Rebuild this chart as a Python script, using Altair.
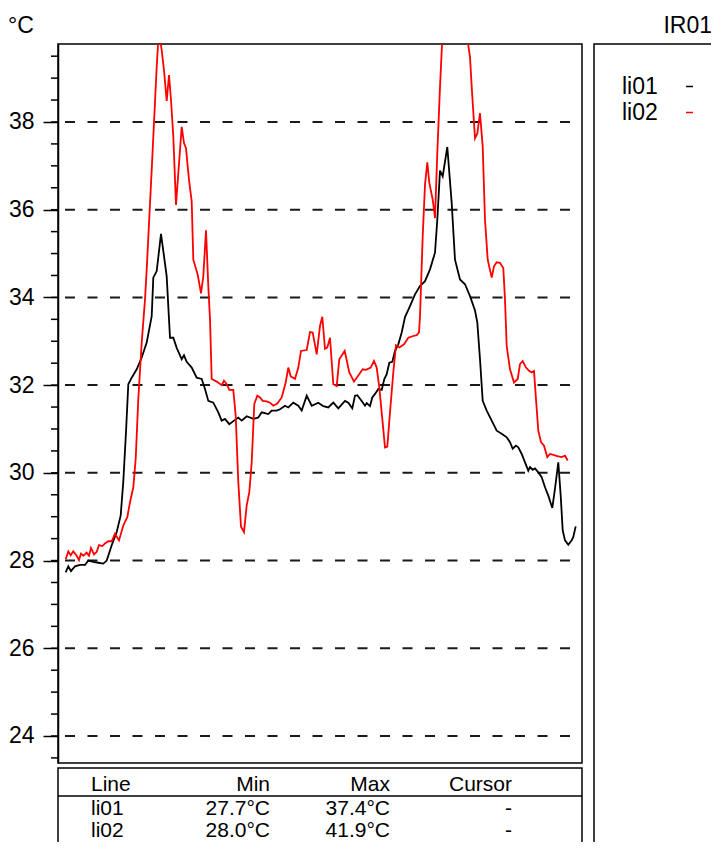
import altair as alt
import pandas as pd

# ---- data ----
li01_pos = [0, 1.3, 2.65, 4.65, 7.15, 9.65, 11.3, 13.8, 16.3, 18.8, 20.5, 23, 25.5, 27.5, 28.8, 30.15,
            31.3, 33, 35.5, 38, 40.5, 43, 43.8, 45.5, 47.65, 50.5, 51.65, 52.15, 53.8, 55.5, 58, 59.15,
            60.5, 63, 65.5, 68, 69.65, 71.3, 73.8, 76.3, 78, 79.65, 81.8, 84.15, 86.3, 88, 90.5, 93.8,
            96.3, 98, 101.3, 103, 105.5, 107.15, 109.65, 111.3, 113.8, 116.3, 118, 120.5, 123, 126.3,
            128.8, 131.3, 133.8, 136.3, 139.65, 141.3, 143.3, 144.65, 145.8, 148, 149.65, 150.5, 152.15,
            153.3, 154.65, 156.3, 158, 159.3, 160.5, 161.8, 163.3, 164.65, 166.3, 168, 169.65, 172.15,
            174.65, 177.15, 179.65, 182.15, 184.65, 185.8, 187.15, 188.5, 190.8, 193, 194.65, 197.15,
            199.65, 202.15, 204.65, 205.8, 207.15, 208.5, 210.5, 213, 215.5, 218, 220.5, 222.15, 223.5,
            225.15, 226.3, 228, 229.65, 231.3, 232.15, 233.5, 234.65, 236.3, 238, 239.65, 241.3, 243.3,
            244.65, 246.3, 247.5, 248.5, 249.65, 251.3, 253, 253.8, 255]
li01_val = [27.73, 27.87, 27.76, 27.87, 27.9, 27.9, 28.0, 27.97, 27.95, 27.93, 28.0, 28.35, 28.65, 29.03,
            29.8, 30.93, 32.02, 32.17, 32.36, 32.63, 32.97, 33.57, 34.45, 34.6, 35.45, 34.48, 33.5, 33.08,
            33.08, 32.85, 32.59, 32.68, 32.53, 32.4, 32.17, 32.14, 31.91, 31.64, 31.6, 31.38, 31.19, 31.23,
            31.11, 31.19, 31.26, 31.19, 31.29, 31.23, 31.26, 31.38, 31.34, 31.42, 31.42, 31.45, 31.53,
            31.49, 31.6, 31.53, 31.42, 31.76, 31.53, 31.6, 31.52, 31.49, 31.6, 31.47, 31.64, 31.6, 31.47,
            31.76, 31.77, 31.64, 31.53, 31.59, 31.52, 31.72, 31.8, 31.91, 31.89, 32.14, 32.25, 32.51,
            32.53, 32.78, 32.93, 33.2, 33.55, 33.8, 34.07, 34.26, 34.37, 34.64, 35.02, 35.77, 36.89,
            36.76, 37.43, 36.15, 34.86, 34.41, 34.3, 34.03, 33.7, 33.43, 32.59, 31.64, 31.42, 31.19,
            30.96, 30.89, 30.81, 30.7, 30.55, 30.62, 30.58, 30.43, 30.24, 30.05, 30.13, 30.07, 30.1,
            30.01, 29.9, 29.67, 29.48, 29.2, 29.64, 30.24, 29.48, 28.69, 28.46, 28.36, 28.46, 28.54, 28.78]

li02_pos = [0, 1.3, 2.5, 3.8, 5.5, 6.65, 7.65, 8.8, 10.5, 11.65, 12.65, 14.15, 15.5, 16.65, 18.3, 19.65,
            21.3, 23, 24.65, 26.65, 28.8, 30.8, 32.15, 33.8, 35, 36.3, 38, 39.65, 40.5, 43, 45.5, 46.4,
            47.15, 48, 49.15, 50.5, 51.65, 52.65, 53.8, 55.15, 56.8, 58, 59.15, 60.15, 61.65, 63, 63.8,
            66, 67.65, 68.8, 70.15, 71.3, 72.15, 73, 75.5, 78, 79.15, 80.5, 81.8, 83.8, 85, 86.3, 87.65,
            89.15, 90.5, 91.8, 93, 94.3, 95.8, 97.15, 98.5, 100.5, 102.15, 103.8, 105.8, 108, 110, 111.3,
            112.5, 114.65, 116.3, 117.65, 120.5, 122.15, 123.5, 125.5, 127.15, 128.3, 129.65, 130.8,
            132.15, 133.8, 135.5, 136.8, 139.5, 141.8, 144.15, 146.3, 148.5, 150.15, 152.5, 154.15,
            155.5, 156.8, 158.3, 159.65, 160.8, 162.15, 163.8, 165.15, 166.8, 169.15, 171.3, 173.8,
            175.5, 176.65, 177.15, 178.5, 179.65, 180.8, 181.8, 183.5, 184.65, 185.8, 187.15, 188.3,
            194.65, 200.5, 202.15, 203, 204.65, 205.8, 207.15, 208.5, 209.65, 211, 213, 214.15, 215.5,
            217.15, 218.8, 219.65, 220.5, 222.15, 224.15, 226, 227.15, 228.5, 230.15, 231.8, 233,
            234.15, 235.15, 236.3, 237.65, 239.15, 240.8, 242.15, 243.8, 245.8, 248, 249.65, 251]
li02_val = [28.03, 28.21, 28.12, 28.21, 28.11, 28.01, 28.16, 28.11, 28.18, 28.11, 28.29, 28.14, 28.2,
            28.35, 28.33, 28.39, 28.44, 28.44, 28.61, 28.46, 28.8, 28.99, 29.33, 29.67, 30.32, 31.68,
            32.97, 33.95, 34.64, 36.91, 39.26, 39.95, 39.9, 39.64, 39.18, 38.48, 39.07, 38.5, 37.67,
            36.11, 37.14, 37.89, 37.52, 37.4, 36.68, 36.19, 34.86, 34.52, 34.09, 34.48, 35.53, 34.26,
            33.5, 32.14, 32.08, 32.0, 32.1, 32.02, 31.89, 31.89, 31.3, 29.79, 28.77, 28.65, 29.26,
            29.56, 30.24, 31.57, 31.76, 31.72, 31.64, 31.63, 31.6, 31.53, 31.58, 31.72, 32.06, 32.4,
            32.2, 32.14, 32.4, 32.78, 32.8, 33.21, 33.2, 32.7, 33.35, 33.56, 32.83, 32.86, 33.08, 32.02,
            31.98, 32.59, 32.78, 32.29, 32.08, 32.22, 32.36, 32.35, 32.4, 32.55, 32.4, 31.95, 31.23,
            30.58, 30.6, 31.38, 32.29, 32.91, 32.86, 32.93, 33.08, 33.12, 33.14, 33.2, 33.57, 35.39,
            36.57, 37.08, 36.61, 36.23, 35.81, 37.29, 38.8, 39.9, 41.9, 40.0, 39.48, 38.8, 37.63, 37.74,
            38.2, 37.44, 35.77, 34.86, 34.45, 34.71, 34.8, 34.79, 34.67, 33.95, 32.89, 32.36, 32.06,
            32.14, 32.48, 32.55, 32.4, 32.32, 32.29, 32.32, 31.68, 30.96, 30.7, 30.62, 30.36, 30.43,
            30.41, 30.38, 30.36, 30.39, 30.28]

series_names = ["li01", "li02"]
series_colors = ["#000000", "#ff0000"]

y_major = [24, 26, 28, 30, 32, 34, 36, 38]
y_minor = [23.5, 24, 24.5, 25, 25.5, 26, 26.5, 27, 27.5, 28, 28.5, 29, 29.5, 30, 30.5, 31, 31.5,
           32, 32.5, 33, 33.5, 34, 34.5, 35, 35.5, 36, 36.5, 37, 37.5, 38, 38.5, 39, 39.5]

unit_label = "°C"
panel_title = "IR01"
table_header = ["Line", "Min", "Max", "Cursor"]
table_line = ["li01", "li02"]
table_min = ["27.7°C", "28.0°C"]
table_max = ["37.4°C", "41.9°C"]
table_cursor = ["-", "-"]

# ---- layout ----
FONT = "Liberation Sans"
FS = 23
TFS = 21
W, H = 524, 719
LW = 1.5

xs = alt.Scale(domain=[-3.85, 258.15], nice=False, zero=False)
ys = alt.Scale(domain=[23.384, 39.778], nice=False, zero=False)

y_axis = alt.Axis(values=y_major, tickSize=15, tickWidth=LW, tickColor="black",
                  domain=True, domainColor="black", domainWidth=LW,
                  labelFont=FONT, labelFontSize=FS, labelColor="black",
                  labelPadding=9, grid=False, title=None)

df_lines = pd.concat([
    pd.DataFrame({"pos": li01_pos, "val": li01_val, "line": series_names[0]}),
    pd.DataFrame({"pos": li02_pos, "val": li02_val, "line": series_names[1]}),
])

grid = alt.Chart(pd.DataFrame({"val": y_major})).mark_rule(
    color="#1a1a1a", strokeWidth=2, strokeDash=[10, 12.5]
).encode(
    y=alt.Y("val:Q", scale=ys, axis=y_axis),
    x=alt.value(7), x2=alt.value(517),
)

minor = alt.Chart(pd.DataFrame({"val": y_minor})).mark_rule(
    color="black", strokeWidth=LW
).encode(
    y=alt.Y("val:Q", scale=ys, axis=y_axis),
    x=alt.value(-7), x2=alt.value(0),
)

lines = alt.Chart(df_lines).mark_line(strokeWidth=1.8, clip=True).encode(
    x=alt.X("pos:Q", scale=xs, axis=None),
    y=alt.Y("val:Q", scale=ys, axis=y_axis),
    color=alt.Color("line:N", scale=alt.Scale(domain=series_names, range=series_colors), legend=None),
    order="pos:Q",
)


def box(x1, x2, y1, y2):
    return alt.Chart(pd.DataFrame({"a": [0]})).mark_rect(
        fillOpacity=0, stroke="black", strokeWidth=LW
    ).encode(x=alt.value(x1), x2=alt.value(x2), y=alt.value(y1), y2=alt.value(y2))


def hline(x1, x2, y, color="black", sw=LW):
    return alt.Chart(pd.DataFrame({"a": [0]})).mark_rule(
        color=color, strokeWidth=sw
    ).encode(x=alt.value(x1), x2=alt.value(x2), y=alt.value(y))


def txt(text, x, y, align="left", color="black", size=FS):
    return alt.Chart(pd.DataFrame({"t": [text]})).mark_text(
        align=align, baseline="alphabetic", font=FONT, fontSize=size, color=color
    ).encode(x=alt.value(x), y=alt.value(y), text="t:N")


layers = [grid, minor, lines]

# titles
layers.append(txt(unit_label, -50, -11, "left"))
layers.append(txt(panel_title, 654, -11, "right"))

# legend panel
layers.append(box(536, 760, 0, 860))
for i, (name, col) in enumerate(zip(series_names, series_colors)):
    layers.append(txt(name, 564, 50 + 26 * i, "left"))
    layers.append(hline(628, 635, 42.5 + 26 * i, col))

# table
layers.append(box(0, W, 724, 860))
layers.append(hline(0, W, 752))
col_x = [33, 212, 332, 454]
col_align = ["left", "right", "right", "right"]
for h, cx, ca in zip(table_header, col_x, col_align):
    layers.append(txt(h, cx, 747, ca, size=TFS))
for i, row in enumerate(zip(table_line, table_min, table_max, table_cursor)):
    for val, cx, ca in zip(row, col_x, col_align):
        layers.append(txt(val, cx, 771 + 22 * i, ca, size=TFS))

chart = alt.layer(*layers).properties(
    width=W, height=H,
    padding={"left": 50, "top": 36, "right": 129, "bottom": 79},
    autosize=alt.AutoSizeParams(type="none"),
).configure_view(stroke="black", strokeWidth=LW)

chart.save("out.html", embed_options={"renderer": "svg", "actions": False})
